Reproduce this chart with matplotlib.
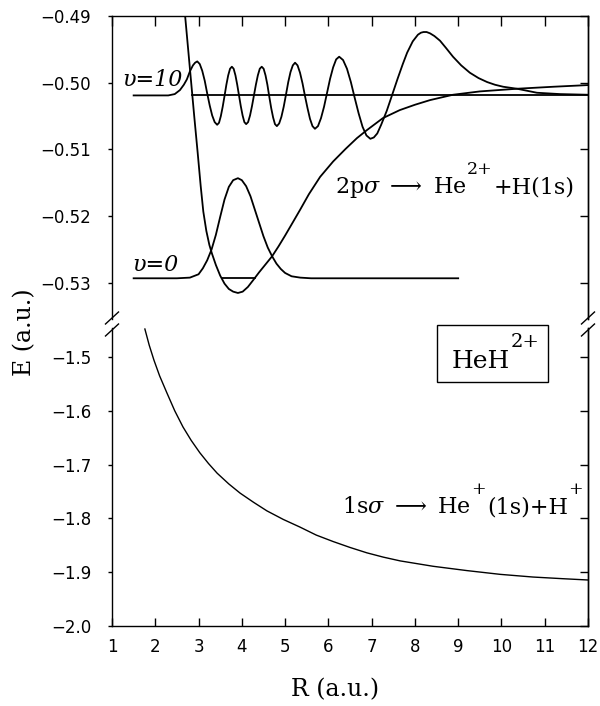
import matplotlib
matplotlib.use('Agg')
import matplotlib.pyplot as plt
from matplotlib.lines import Line2D
from matplotlib.patches import Rectangle
from matplotlib.ticker import FixedLocator, FuncFormatter

plt.rcParams['mathtext.fontset'] = 'dejavuserif'

# ── data ─────────────────────────────────────────────────────────
# 2p sigma potential curve (upper panel)
R_2p = [2.62, 2.69, 2.76, 2.83, 2.90, 2.98, 3.05, 3.11, 3.18, 3.25, 3.31,
        3.40, 3.50, 3.60, 3.70, 3.80, 3.91, 4.02, 4.14, 4.26, 4.40, 4.55,
        4.70, 4.85, 5.00, 5.18, 5.35, 5.55, 5.81, 6.11, 6.40, 6.66, 6.89,
        7.26, 7.65, 8.00, 8.35, 8.88, 9.50, 10.36, 11.20, 12.00]
E_2p = [-0.4850, -0.4900, -0.4950, -0.5000, -0.5050, -0.5105, -0.5155,
        -0.5193, -0.5222, -0.5243, -0.5256, -0.5273, -0.5289, -0.5301,
        -0.5309, -0.5313, -0.5315, -0.5313, -0.5306, -0.5296, -0.5284,
        -0.5272, -0.5260, -0.5245, -0.5229, -0.5209, -0.5190, -0.5167,
        -0.5141, -0.5118, -0.5099, -0.5083, -0.5071, -0.5053, -0.5041,
        -0.5033, -0.5026, -0.5018, -0.5013, -0.5009, -0.5006, -0.50035]

# v=0 vibrational wavefunction
R_v0 = [1.50, 2.50, 2.80, 3.00, 3.10, 3.20, 3.30, 3.40, 3.50, 3.60, 3.70,
        3.80, 3.91, 4.00, 4.10, 4.20, 4.30, 4.40, 4.50, 4.60, 4.70, 4.80,
        4.90, 5.00, 5.15, 5.35, 5.60, 9.00]
E_v0 = [-0.5293, -0.5293, -0.5292, -0.5287, -0.5278, -0.5266, -0.5250,
        -0.5228, -0.5201, -0.5175, -0.5156, -0.5146, -0.5143, -0.5146,
        -0.5155, -0.5170, -0.5190, -0.5210, -0.5230, -0.5247, -0.5260,
        -0.5271, -0.5279, -0.5285, -0.5290, -0.5292, -0.5293, -0.5293]
R_lev0 = [3.54, 4.30]
E_lev0 = [-0.5293, -0.5293]

# v=10 vibrational wavefunction
R_v10 = [1.50, 2.30, 2.45, 2.57, 2.66, 2.73, 2.80, 2.87, 2.92, 2.97,
         3.028, 3.085, 3.143, 3.200, 3.258, 3.315, 3.373, 3.430,
         3.473, 3.515, 3.558, 3.600, 3.643, 3.685, 3.728, 3.770,
         3.811, 3.853, 3.894, 3.935, 3.976, 4.018, 4.059, 4.100,
         4.145, 4.190, 4.235, 4.280, 4.325, 4.370, 4.415, 4.460,
         4.504, 4.548, 4.591, 4.635, 4.679, 4.723, 4.766, 4.810,
         4.863, 4.915, 4.968, 5.020, 5.073, 5.125, 5.178, 5.230,
         5.288, 5.345, 5.403, 5.460, 5.518, 5.575, 5.633, 5.690,
         5.760, 5.830, 5.900, 5.970, 6.040, 6.110, 6.180, 6.250,
         6.340, 6.430, 6.520, 6.610, 6.700, 6.790, 6.880, 6.970,
         7.05, 7.13, 7.22, 7.35, 7.47, 7.60, 7.72, 7.82, 7.95, 8.07, 8.14,
         8.20, 8.27, 8.35, 8.45, 8.58, 8.72, 8.88, 9.07, 9.27, 9.47, 9.67,
         9.85, 10.04, 10.36, 10.82, 11.35, 12.00]
E_v10 = [-0.5019, -0.5019, -0.5017, -0.5011, -0.5003, -0.4995, -0.4983, -0.4974, -0.4970, -0.4968,
         -0.4972, -0.4982, -0.4997, -0.5016, -0.5034, -0.5049, -0.5059, -0.5063,
         -0.5060, -0.5050, -0.5036, -0.5020, -0.5003, -0.4989, -0.4979, -0.4976,
         -0.4979, -0.4989, -0.5003, -0.5019, -0.5035, -0.5049, -0.5059, -0.5062,
         -0.5059, -0.5049, -0.5035, -0.5019, -0.5003, -0.4989, -0.4979, -0.4976,
         -0.4979, -0.4989, -0.5003, -0.5021, -0.5038, -0.5052, -0.5062, -0.5065,
         -0.5061, -0.5051, -0.5036, -0.5018, -0.4999, -0.4984, -0.4974, -0.4970,
         -0.4974, -0.4985, -0.5001, -0.5020, -0.5038, -0.5054, -0.5065, -0.5069,
         -0.5065, -0.5053, -0.5036, -0.5015, -0.4994, -0.4977, -0.4965, -0.4961,
         -0.4966, -0.4979, -0.4999, -0.5023, -0.5046, -0.5066, -0.5079, -0.5084,
         -0.5082, -0.5076, -0.5063, -0.5042, -0.5019, -0.4994, -0.4972, -0.4955, -0.4938, -0.4928, -0.4925,
         -0.4924, -0.4924, -0.4926, -0.4930, -0.4937, -0.4948, -0.4961, -0.4974, -0.4985, -0.4993, -0.4999,
         -0.5003, -0.5006, -0.5009, -0.5015, -0.5017, -0.5018]
R_lev10 = [2.86, 12.00]
E_lev10 = [-0.5019, -0.5019]

# 1s sigma potential curve (lower panel)
R_1s = [1.76, 1.86, 1.97, 2.10, 2.27, 2.45, 2.64, 2.83, 3.03, 3.23, 3.43,
        3.70, 3.96, 4.27, 4.58, 4.96, 5.34, 5.72, 6.11, 6.50, 6.89, 7.27,
        7.66, 8.42, 9.20, 9.97, 10.73, 11.40, 12.00]
E_1s = [-1.448, -1.478, -1.506, -1.535, -1.567, -1.600, -1.630, -1.655,
        -1.678, -1.698, -1.716, -1.736, -1.753, -1.770, -1.786, -1.802,
        -1.816, -1.831, -1.843, -1.854, -1.864, -1.872, -1.879, -1.889,
        -1.897, -1.904, -1.909, -1.912, -1.9145]

x_ticks = list(range(1, 13))
y_ticks_top = [-0.49, -0.50, -0.51, -0.52, -0.53]
y_ticks_bot = [-1.5, -1.6, -1.7, -1.8, -1.9, -2.0]

SERIF = 'DejaVu Serif'


def fmt(nd):
    return FuncFormatter(lambda v, p: f'{v:.{nd}f}'.replace('-', '\u2212'))


# ── figure ───────────────────────────────────────────────────────
W, H = 600, 706
fig = plt.figure(figsize=(W / 100, H / 100), dpi=100)
ax_t = fig.add_axes([112 / W, 1 - 319 / H, 476 / W, 303 / H])
ax_b = fig.add_axes([112 / W, 1 - 626 / H, 476 / W, 298 / H])

LW = 1.3
ax_t.plot(R_2p, E_2p, color='black', lw=LW)
ax_t.plot(R_v0, E_v0, color='black', lw=LW)
ax_t.plot(R_lev0, E_lev0, color='black', lw=LW)
ax_t.plot(R_v10, E_v10, color='black', lw=LW)
ax_t.plot(R_lev10, E_lev10, color='black', lw=LW)
ax_b.plot(R_1s, E_1s, color='black', lw=1.0)

ax_t.set_xlim(1, 12); ax_t.set_ylim(-0.5354, -0.49)
ax_b.set_xlim(1, 12); ax_b.set_ylim(-2.0, -1.4461)

for ax in (ax_t, ax_b):
    for sp in ax.spines.values():
        sp.set_linewidth(1.0)
ax_t.spines['bottom'].set_visible(False)
ax_b.spines['top'].set_visible(False)

ax_t.xaxis.set_major_locator(FixedLocator(x_ticks))
ax_t.tick_params(axis='x', direction='in', top=True, bottom=False,
                 labelbottom=False, length=7, width=1.0)
ax_t.yaxis.set_major_locator(FixedLocator(y_ticks_top))
ax_t.yaxis.set_major_formatter(fmt(2))
ax_t.tick_params(axis='y', direction='out', left=True, right=False,
                 length=3, width=1.0, labelsize=12, pad=12)

ax_b.xaxis.set_major_locator(FixedLocator(x_ticks))
ax_b.xaxis.set_major_formatter(fmt(0))
ax_b.tick_params(axis='x', direction='in', top=False, bottom=True,
                 length=6, width=1.0, labelsize=12, pad=9)
ax_b.yaxis.set_major_locator(FixedLocator(y_ticks_bot))
ax_b.yaxis.set_major_formatter(fmt(1))
ax_b.tick_params(axis='y', direction='out', left=True, right=False,
                 length=3, width=1.0, labelsize=12, pad=12)

# inward ticks on the right spine
for ax, yt in ((ax_t, y_ticks_top), (ax_b, y_ticks_bot)):
    ra = ax.secondary_yaxis('right')
    ra.set_yticks(yt)
    ra.tick_params(direction='in', length=6, width=1.0, labelright=False)
    ra.spines['right'].set_linewidth(1.0)

# break marks on both spines
def slash(xc, yc):
    d_x, d_y = 6.5, 6.0
    fig.add_artist(Line2D([(xc - d_x) / W, (xc + d_x) / W],
                          [1 - (yc + d_y) / H, 1 - (yc - d_y) / H],
                          color='black', lw=1.0, transform=fig.transFigure))

for xc in (112, 588):
    slash(xc, 318)
    slash(xc, 330)


# text with raised, large superscripts built from chained pieces
def chain(ax, x, y, pieces, fs, coords='data'):
    prev = ax.annotate(pieces[0][0], xy=(x, y), xycoords=coords,
                       fontsize=fs, family=SERIF, va='baseline', ha='left',
                       annotation_clip=False)
    for txt, sup in pieces[1:]:
        dy = 0.85 * fs if sup else 0
        prev = ax.annotate(txt, xy=(1, y), xycoords=(prev, coords),
                           xytext=(0.5, dy), textcoords='offset points',
                           fontsize=fs * (0.78 if sup else 1.0), family=SERIF,
                           va='baseline', ha='left', annotation_clip=False)
    return prev


ax_t.text(1.23, -0.4996, '\u03c5=10', family=SERIF, style='italic',
          fontsize=16, ha='left', va='center')
ax_t.text(1.46, -0.5273, '\u03c5=0', family=SERIF, style='italic',
          fontsize=16, ha='left', va='center')

chain(ax_t, 6.15, -0.51654,
      [(r'2p$\sigma$ $\longrightarrow$ He', False), ('2+', True),
       ('+H(1s)', False)], 16)
chain(ax_b, 6.32, -1.790,
      [(r'1s$\sigma$ $\longrightarrow$ He', False), ('+', True),
       ('(1s)+H', False), ('+', True)], 16)

fig.add_artist(Rectangle((437 / W, 1 - 382 / H), 111 / W, 57 / H, fill=False,
                         ec='black', lw=1.0, transform=fig.transFigure))
chain(ax_b, 452 / W, 1 - 368 / H, [('HeH', False), ('2+', True)], 18,
      coords='figure fraction')

fig.text(25 / W, 1 - 332 / H, 'E (a.u.)', family=SERIF, fontsize=17,
         rotation=90, ha='center', va='center')
fig.text(335 / W, 1 - 690 / H, 'R (a.u.)', family=SERIF, fontsize=17,
         ha='center', va='center')

fig.savefig('out.png', dpi=100, facecolor='white')
